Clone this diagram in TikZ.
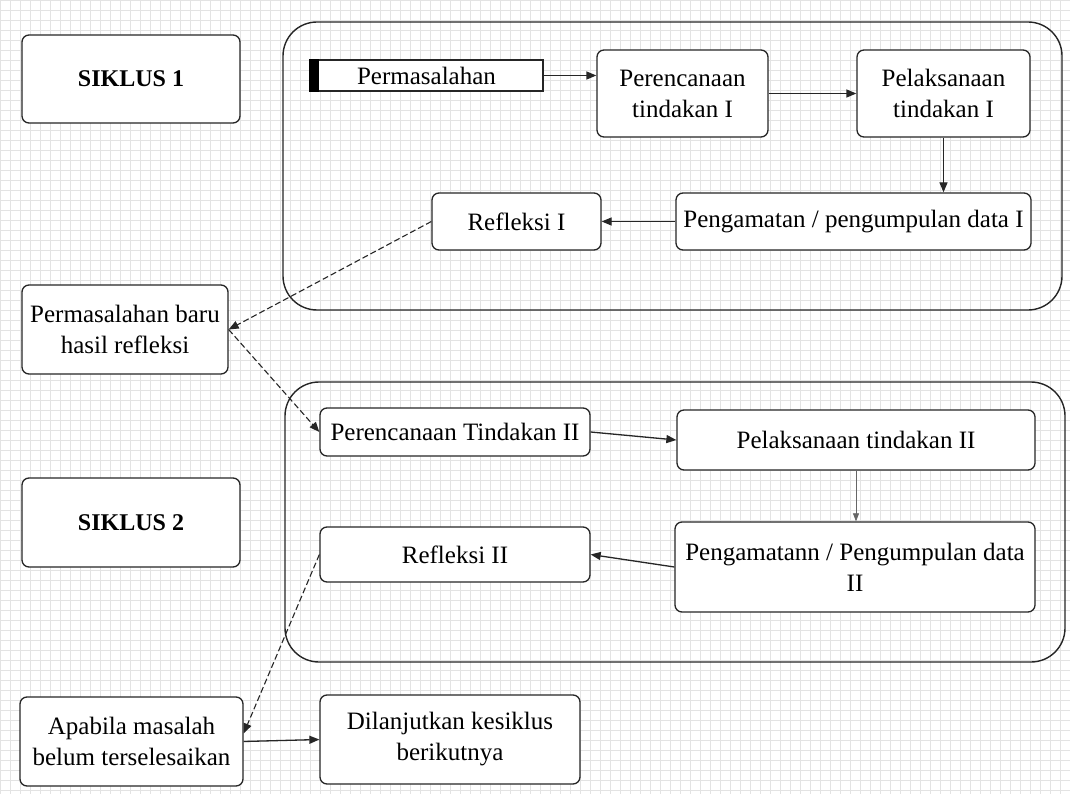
\documentclass[tikz,border=0pt]{standalone}
\usepackage{fontspec}
\setmainfont{Liberation Serif}
\usetikzlibrary{arrows.meta}
\begin{document}
\begin{tikzpicture}[x=1pt,y=-1pt,
  gridline/.style={draw=gray!22,line width=0.6pt},
  stepbox/.style={draw=black!85,line width=1.3pt,rounded corners=7pt,fill=white,align=center,
    font=\fontsize{25}{31}\selectfont,inner sep=2pt},
  bigbox/.style={draw=black!85,line width=1.4pt,rounded corners=34pt},
  arr/.style={-{Triangle[length=10pt,width=8pt]},line width=1.3pt,black!85},
  darr/.style={-{Triangle[length=10pt,width=8pt]},line width=1.1pt,black!85,dash pattern=on 6pt off 3pt},
  thinarr/.style={-{Triangle[length=8pt,width=6pt]},line width=0.6pt,black!60}
]
\useasboundingbox (0,0) rectangle (1070,794);
\fill[white] (0,0) rectangle (1070,794);
\foreach \x in {0,10,...,1070} \draw[gridline] (\x,0) -- (\x,794);
\foreach \y in {0,10,...,790} \draw[gridline] (0,\y) -- (1070,\y);

% big cycle frames
\node[bigbox,minimum width=779pt,minimum height=288pt] (big1) at (672.5,166) {};
\node[bigbox,minimum width=780pt,minimum height=280pt] (big2) at (675,522) {};

% left column
\node[stepbox,minimum width=218pt,minimum height=88pt,font=\fontsize{24}{28}\selectfont\bfseries] (siklus1) at (131,79) {SIKLUS 1};
\node[stepbox,minimum width=206pt,minimum height=89pt] (baru) at (125,329.5) {Permasalahan baru\\hasil refleksi};
\node[stepbox,minimum width=218pt,minimum height=89pt,font=\fontsize{24}{28}\selectfont\bfseries] (siklus2) at (131,522.5) {SIKLUS 2};
\node[stepbox,minimum width=223pt,minimum height=89pt] (apa) at (131.5,741.5) {Apabila masalah\\belum terselesaikan};
\node[stepbox,minimum width=260pt,minimum height=89pt] (lanjut) at (450,739.5) {Dilanjutkan kesiklus\\berikutnya};

% cycle 1
\node[stepbox,rounded corners=0pt,minimum width=233pt,minimum height=31pt] (perm) at (426.5,75.5) {Permasalahan};
\fill[black] (perm.north west) rectangle ([xshift=10pt]perm.south west);
\node[stepbox,minimum width=171pt,minimum height=87pt] (renc1) at (682.5,93.5) {Perencanaan\\tindakan I};
\node[stepbox,minimum width=173pt,minimum height=87pt] (laks1) at (943.5,93.5) {Pelaksanaan\\tindakan I};
\node[stepbox,minimum width=355pt,minimum height=57pt] (amat1) at (853.5,221.5) {Pengamatan / pengumpulan data I};
\node[stepbox,minimum width=169pt,minimum height=57pt] (ref1) at (516.5,221.5) {Refleksi I};

% cycle 2
\node[stepbox,minimum width=270pt,minimum height=48pt] (renc2) at (455,432) {Perencanaan Tindakan II};
\node[stepbox,minimum width=358pt,minimum height=60pt] (laks2) at (856,440) {Pelaksanaan tindakan II};
\node[stepbox,minimum width=360pt,minimum height=90pt] (amat2) at (855,567) {Pengamatann / Pengumpulan data\\II};
\node[stepbox,minimum width=270pt,minimum height=55pt] (ref2) at (455,554.5) {Refleksi II};

% connectors
\draw[arr] (perm.east) -- (perm.east -| renc1.west);
\draw[arr] (renc1.east) -- (laks1.west);
\draw[arr] (laks1.south) -- (laks1.south |- amat1.north);
\draw[arr] (amat1.west) -- (ref1.east);
\draw[darr] (ref1.west) -- (baru.east);
\draw[darr] (baru.east) -- (renc2.west);
\draw[arr] (renc2.east) -- (laks2.west);
\draw[thinarr] (laks2.south) -- (laks2.south |- amat2.north);
\draw[arr] (amat2.west) -- (ref2.east);
\draw[darr] (ref2.west) -- ([yshift=8pt]apa.east);
\draw[arr] (apa.east) -- (lanjut.west);
\end{tikzpicture}
\end{document}
